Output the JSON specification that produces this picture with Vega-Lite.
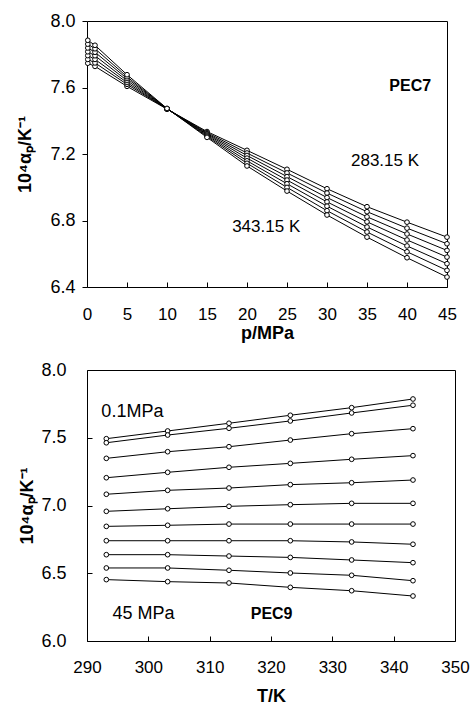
{
  "$schema": "https://vega.github.io/schema/vega-lite/v6.json",
  "padding": {"left": 16, "top": 11, "right": 10, "bottom": 2},
  "background": "white",
  "spacing": 17,
  "config": {
    "view": {"stroke": "black", "strokeWidth": 1},
    "font": "Liberation Sans",
    "axis": {"grid": false, "domain": false, "tickColor": "black", "labelColor": "black", "titleColor": "black", "labelFont": "Liberation Sans", "titleFont": "Liberation Sans", "labelFlush": false, "labelOverlap": false, "labelSeparation": -50, "titleFontWeight": "bold", "titleFontSize": 18}
  },
  "datasets": {
    "top": [
      {"p":0.1,"T":283.15,"a":7.746},{"p":0.1,"T":293.15,"a":7.769},{"p":0.1,"T":303.15,"a":7.792},{"p":0.1,"T":313.15,"a":7.815},{"p":0.1,"T":323.15,"a":7.838},{"p":0.1,"T":333.15,"a":7.861},{"p":0.1,"T":343.15,"a":7.884},
      {"p":1,"T":283.15,"a":7.727},{"p":1,"T":293.15,"a":7.748},{"p":1,"T":303.15,"a":7.769},{"p":1,"T":313.15,"a":7.791},{"p":1,"T":323.15,"a":7.812},{"p":1,"T":333.15,"a":7.833},{"p":1,"T":343.15,"a":7.854},
      {"p":5,"T":283.15,"a":7.607},{"p":5,"T":293.15,"a":7.619},{"p":5,"T":303.15,"a":7.630},{"p":5,"T":313.15,"a":7.642},{"p":5,"T":323.15,"a":7.654},{"p":5,"T":333.15,"a":7.665},{"p":5,"T":343.15,"a":7.677},
      {"p":10,"T":283.15,"a":7.470},{"p":10,"T":293.15,"a":7.471},{"p":10,"T":303.15,"a":7.471},{"p":10,"T":313.15,"a":7.472},{"p":10,"T":323.15,"a":7.473},{"p":10,"T":333.15,"a":7.473},{"p":10,"T":343.15,"a":7.474},
      {"p":15,"T":283.15,"a":7.335},{"p":15,"T":293.15,"a":7.329},{"p":15,"T":303.15,"a":7.323},{"p":15,"T":313.15,"a":7.318},{"p":15,"T":323.15,"a":7.312},{"p":15,"T":333.15,"a":7.306},{"p":15,"T":343.15,"a":7.300},
      {"p":20,"T":283.15,"a":7.222},{"p":20,"T":293.15,"a":7.206},{"p":20,"T":303.15,"a":7.191},{"p":20,"T":313.15,"a":7.175},{"p":20,"T":323.15,"a":7.159},{"p":20,"T":333.15,"a":7.144},{"p":20,"T":343.15,"a":7.128},
      {"p":25,"T":283.15,"a":7.108},{"p":25,"T":293.15,"a":7.086},{"p":25,"T":303.15,"a":7.064},{"p":25,"T":313.15,"a":7.043},{"p":25,"T":323.15,"a":7.021},{"p":25,"T":333.15,"a":6.999},{"p":25,"T":343.15,"a":6.977},
      {"p":30,"T":283.15,"a":6.991},{"p":30,"T":293.15,"a":6.965},{"p":30,"T":303.15,"a":6.938},{"p":30,"T":313.15,"a":6.912},{"p":30,"T":323.15,"a":6.886},{"p":30,"T":333.15,"a":6.859},{"p":30,"T":343.15,"a":6.833},
      {"p":35,"T":283.15,"a":6.883},{"p":35,"T":293.15,"a":6.853},{"p":35,"T":303.15,"a":6.822},{"p":35,"T":313.15,"a":6.792},{"p":35,"T":323.15,"a":6.761},{"p":35,"T":333.15,"a":6.731},{"p":35,"T":343.15,"a":6.700},
      {"p":40,"T":283.15,"a":6.790},{"p":40,"T":293.15,"a":6.754},{"p":40,"T":303.15,"a":6.719},{"p":40,"T":313.15,"a":6.683},{"p":40,"T":323.15,"a":6.647},{"p":40,"T":333.15,"a":6.612},{"p":40,"T":343.15,"a":6.576},
      {"p":45,"T":283.15,"a":6.700},{"p":45,"T":293.15,"a":6.660},{"p":45,"T":303.15,"a":6.620},{"p":45,"T":313.15,"a":6.580},{"p":45,"T":323.15,"a":6.540},{"p":45,"T":333.15,"a":6.500},{"p":45,"T":343.15,"a":6.460}
    ],
    "bot": [
      {"P":0.1,"T":293.15,"a":7.493},{"P":0.1,"T":303.15,"a":7.550},{"P":0.1,"T":313.15,"a":7.607},{"P":0.1,"T":323.15,"a":7.666},{"P":0.1,"T":333.15,"a":7.722},{"P":0.1,"T":343.15,"a":7.786},
      {"P":1,"T":293.15,"a":7.463},{"P":1,"T":303.15,"a":7.520},{"P":1,"T":313.15,"a":7.570},{"P":1,"T":323.15,"a":7.624},{"P":1,"T":333.15,"a":7.683},{"P":1,"T":343.15,"a":7.740},
      {"P":5,"T":293.15,"a":7.348},{"P":5,"T":303.15,"a":7.397},{"P":5,"T":313.15,"a":7.434},{"P":5,"T":323.15,"a":7.483},{"P":5,"T":333.15,"a":7.530},{"P":5,"T":343.15,"a":7.567},
      {"P":10,"T":293.15,"a":7.205},{"P":10,"T":303.15,"a":7.245},{"P":10,"T":313.15,"a":7.282},{"P":10,"T":323.15,"a":7.311},{"P":10,"T":333.15,"a":7.341},{"P":10,"T":343.15,"a":7.368},
      {"P":15,"T":293.15,"a":7.083},{"P":15,"T":303.15,"a":7.112},{"P":15,"T":313.15,"a":7.129},{"P":15,"T":323.15,"a":7.154},{"P":15,"T":333.15,"a":7.168},{"P":15,"T":343.15,"a":7.188},
      {"P":20,"T":293.15,"a":6.957},{"P":20,"T":303.15,"a":6.976},{"P":20,"T":313.15,"a":6.994},{"P":20,"T":323.15,"a":7.006},{"P":20,"T":333.15,"a":7.016},{"P":20,"T":343.15,"a":7.016},
      {"P":25,"T":293.15,"a":6.846},{"P":25,"T":303.15,"a":6.854},{"P":25,"T":313.15,"a":6.863},{"P":25,"T":323.15,"a":6.863},{"P":25,"T":333.15,"a":6.863},{"P":25,"T":343.15,"a":6.863},
      {"P":30,"T":293.15,"a":6.740},{"P":30,"T":303.15,"a":6.740},{"P":30,"T":313.15,"a":6.740},{"P":30,"T":323.15,"a":6.740},{"P":30,"T":333.15,"a":6.731},{"P":30,"T":343.15,"a":6.714},
      {"P":35,"T":293.15,"a":6.637},{"P":35,"T":303.15,"a":6.637},{"P":35,"T":313.15,"a":6.627},{"P":35,"T":323.15,"a":6.617},{"P":35,"T":333.15,"a":6.598},{"P":35,"T":343.15,"a":6.578},
      {"P":40,"T":293.15,"a":6.539},{"P":40,"T":303.15,"a":6.539},{"P":40,"T":313.15,"a":6.522},{"P":40,"T":323.15,"a":6.502},{"P":40,"T":333.15,"a":6.485},{"P":40,"T":343.15,"a":6.445},
      {"P":45,"T":293.15,"a":6.453},{"P":45,"T":303.15,"a":6.438},{"P":45,"T":313.15,"a":6.428},{"P":45,"T":323.15,"a":6.396},{"P":45,"T":333.15,"a":6.371},{"P":45,"T":343.15,"a":6.332}
    ]
  },
  "vconcat": [
    {
      "width": 360,
      "height": 266,
      "encoding": {
        "x": {"field": "p", "type": "quantitative", "scale": {"domain": [0, 45], "nice": false, "zero": false},
          "axis": {"values": [0,5,10,15,20,25,30,35,40,45], "title": "p/MPa", "tickSize": -5, "labelPadding": 24, "labelFontSize": 17, "labelOverlap": false, "labelFlush": false, "titlePadding": 2}},
        "y": {"field": "a", "type": "quantitative", "scale": {"domain": [6.4, 8.0], "nice": false, "zero": false},
          "axis": {"values": [6.4,6.8,7.2,7.6,8.0], "format": ".1f", "title": "10⁴αₚ/K⁻¹", "tickSize": 5, "labelPadding": 7, "labelFontSize": 18, "labelOverlap": false, "titlePadding": 15}}
      },
      "layer": [
        {
          "data": {"name": "top"},
          "mark": {"type": "line", "color": "black", "strokeWidth": 1},
          "encoding": {"detail": {"field": "T", "type": "nominal"}}
        },
        {
          "data": {"name": "top"},
          "mark": {"type": "point", "shape": "circle", "filled": true, "fill": "white", "stroke": "black", "strokeWidth": 1, "size": 22, "opacity": 1},
          "encoding": {}
        },
        {
          "data": {"values": [{"p": 37.25, "a": 7.158, "t": "283.15 K"}, {"p": 22.4, "a": 6.761, "t": "343.15 K"}]},
          "mark": {"type": "text", "fontSize": 17, "align": "center", "baseline": "middle", "color": "black"},
          "encoding": {"text": {"field": "t"}}
        },
        {
          "data": {"values": [{"p": 40.4, "a": 7.609, "t": "PEC7"}]},
          "mark": {"type": "text", "fontSize": 16, "fontWeight": "bold", "align": "center", "baseline": "middle", "color": "black"},
          "encoding": {"text": {"field": "t"}}
        }
      ]
    },
    {
      "width": 368,
      "height": 271,
      "encoding": {
        "x": {"field": "T", "type": "quantitative", "scale": {"domain": [290, 350], "nice": false, "zero": false},
          "axis": {"values": [290,300,310,320,330,340,350], "title": "T/K", "tickSize": -5, "labelPadding": 23, "labelFontSize": 17, "labelOverlap": false, "labelFlush": false, "titlePadding": 12}},
        "y": {"field": "a", "type": "quantitative", "scale": {"domain": [6.0, 8.0], "nice": false, "zero": false},
          "axis": {"values": [6.0,6.5,7.0,7.5,8.0], "format": ".1f", "title": "10⁴αₚ/K⁻¹", "tickSize": -5, "labelPadding": 26, "labelFontSize": 18, "labelOverlap": false, "titlePadding": 4}}
      },
      "layer": [
        {
          "data": {"name": "bot"},
          "mark": {"type": "line", "color": "black", "strokeWidth": 1},
          "encoding": {"detail": {"field": "P", "type": "nominal"}}
        },
        {
          "data": {"name": "bot"},
          "mark": {"type": "point", "shape": "circle", "filled": true, "fill": "white", "stroke": "black", "strokeWidth": 1, "size": 22, "opacity": 1},
          "encoding": {}
        },
        {
          "data": {"values": [{"T": 297.4, "a": 7.69, "t": "0.1MPa"}, {"T": 299.2, "a": 6.199, "t": "45 MPa"}]},
          "mark": {"type": "text", "fontSize": 18, "align": "center", "baseline": "middle", "color": "black"},
          "encoding": {"text": {"field": "t"}}
        },
        {
          "data": {"values": [{"T": 320.1, "a": 6.199, "t": "PEC9"}]},
          "mark": {"type": "text", "fontSize": 16, "fontWeight": "bold", "align": "center", "baseline": "middle", "color": "black"},
          "encoding": {"text": {"field": "t"}}
        }
      ]
    }
  ]
}
